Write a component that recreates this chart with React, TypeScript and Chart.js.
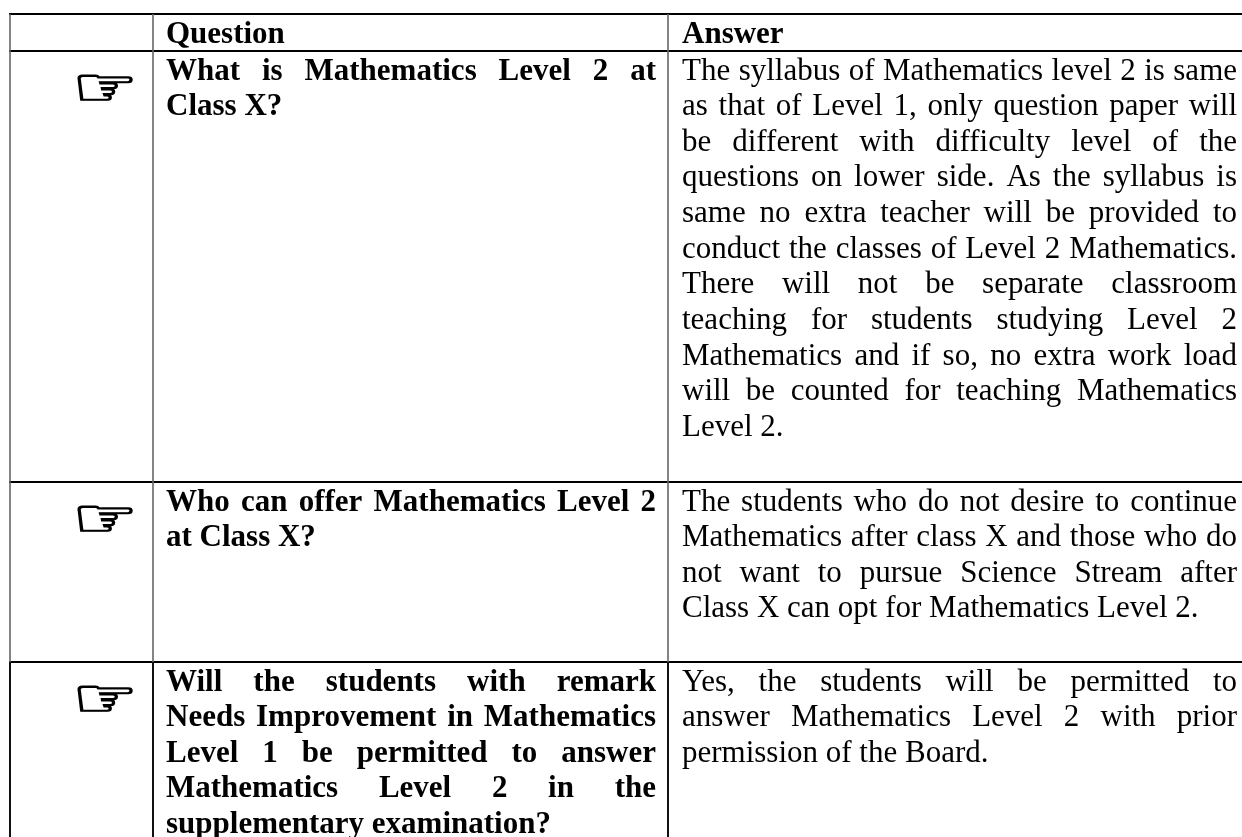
import React, { useEffect, useRef } from "react";
import { Chart, registerables } from "chart.js";

Chart.register(...registerables);

const columnEdges = [10, 153, 668];
const rowEdges = [14, 51, 482, 662];
const pageWidth = 1242;
const pageHeight = 837;

const headerLabels = ["Question", "Answer"];
const questionRows = [
  ["What is Mathematics Level 2 at", "Class X?"],
  ["Who can offer Mathematics Level 2", "at Class X?"],
  [
    "Will the students with remark",
    "Needs Improvement in Mathematics",
    "Level 1 be permitted to answer",
    "Mathematics Level 2 in the",
    "supplementary examination?",
  ],
];
const answerRows = [
  [
    "The syllabus of Mathematics level 2 is same",
    "as that of Level 1, only question paper will",
    "be different with difficulty level of the",
    "questions on lower side. As the syllabus is",
    "same no extra teacher will be provided to",
    "conduct the classes of Level 2 Mathematics.",
    "There will not be separate classroom",
    "teaching for students studying Level 2",
    "Mathematics and if so, no extra work load",
    "will be counted for teaching Mathematics",
    "Level 2.",
  ],
  [
    "The students who do not desire to continue",
    "Mathematics after class X and those who do",
    "not want to pursue Science Stream after",
    "Class X can opt for Mathematics Level 2.",
  ],
  [
    "Yes, the students will be permitted to",
    "answer Mathematics Level 2 with prior",
    "permission of the Board.",
  ],
];
const pointerGlyph = "\u261E";

const FONT_SIZE = 31;
const LINE_HEIGHT = 35.65;
const FIRST_BASELINE = 28.5;
const QUESTION_X = [166, 656];
const ANSWER_X = [682, 1237];

function drawLine(ctx: CanvasRenderingContext2D, text: string, x0: number, x1: number, y: number, justify: boolean) {
  if (!justify) {
    ctx.fillText(text, x0, y);
    return;
  }
  const words = text.split(" ");
  const widths = words.map((w) => ctx.measureText(w).width);
  const total = widths.reduce((a, b) => a + b, 0);
  const gap = (x1 - x0 - total) / (words.length - 1);
  let x = x0;
  words.forEach((w, i) => {
    ctx.fillText(w, x, y);
    x += widths[i] + gap;
  });
}

const tableText = {
  id: "tableText",
  afterDraw(chart: any) {
    const { ctx, scales } = chart;
    const px = (v: number) => scales.x.getPixelForValue(v);
    const py = (v: number) => scales.y.getPixelForValue(v);
    ctx.save();
    ctx.fillStyle = "#000";
    ctx.strokeStyle = "#000";
    ctx.textBaseline = "alphabetic";
    ctx.textAlign = "left";
    ctx.font = `bold ${FONT_SIZE}px "Liberation Serif"`;
    ctx.fillText(headerLabels[0], px(QUESTION_X[0]), py(rowEdges[0] + FIRST_BASELINE));
    ctx.fillText(headerLabels[1], px(ANSWER_X[0]), py(rowEdges[0] + FIRST_BASELINE));
    questionRows.forEach((lines, r) => {
      const top = rowEdges[r + 1];
      ctx.font = `bold ${FONT_SIZE}px "Liberation Serif"`;
      lines.forEach((t, i) =>
        drawLine(ctx, t, px(QUESTION_X[0]), px(QUESTION_X[1]), py(top + FIRST_BASELINE + i * LINE_HEIGHT), i < lines.length - 1)
      );
      ctx.font = `${FONT_SIZE}px "Liberation Serif"`;
      answerRows[r].forEach((t, i) =>
        drawLine(ctx, t, px(ANSWER_X[0]), px(ANSWER_X[1]), py(top + FIRST_BASELINE + i * LINE_HEIGHT), i < answerRows[r].length - 1)
      );
      ctx.save();
      ctx.translate(px(72), py(top + 55.4));
      ctx.scale(1.19, 0.88);
      ctx.font = `bold 62px "DejaVu Sans"`;
      ctx.lineWidth = 1.6;
      ctx.fillText(pointerGlyph, 0, 0);
      ctx.strokeText(pointerGlyph, 0, 0);
      ctx.restore();
    });
    ctx.restore();
  },
};

const rule = (points: { x: number; y: number }[], color: string, width: number) => ({
  data: points,
  showLine: true,
  borderColor: color,
  borderWidth: width,
  pointRadius: 0,
});

export default function App() {
  const ref = useRef<HTMLCanvasElement>(null);
  useEffect(() => {
    const lastRow = rowEdges[rowEdges.length - 1];
    const datasets = [
      ...columnEdges.map((x) =>
        rule([{ x, y: rowEdges[0] }, { x, y: lastRow }], "#666666", 1.6)
      ),
      ...columnEdges.map((x) =>
        rule([{ x, y: lastRow }, { x, y: pageHeight }], "#111111", 2)
      ),
      ...rowEdges.map((y) =>
        rule([{ x: columnEdges[0] - 1, y }, { x: pageWidth, y }], "#000000", 2)
      ),
    ];
    const chart = new Chart(ref.current!, {
      type: "scatter",
      data: { datasets },
      options: {
        animation: false,
        responsive: false,
        layout: { padding: 0 },
        plugins: { legend: { display: false }, tooltip: { enabled: false } },
        scales: {
          x: { type: "linear", display: false, min: 0, max: pageWidth },
          y: { type: "linear", display: false, min: 0, max: pageHeight, reverse: true },
        },
      },
      plugins: [tableText],
    } as any);
    return () => chart.destroy();
  }, []);
  return (
    <div style={{ position: "fixed", left: 0, top: 0, background: "#fff" }}>
      <canvas ref={ref} width={pageWidth} height={pageHeight} style={{ display: "block" }} />
    </div>
  );
}
